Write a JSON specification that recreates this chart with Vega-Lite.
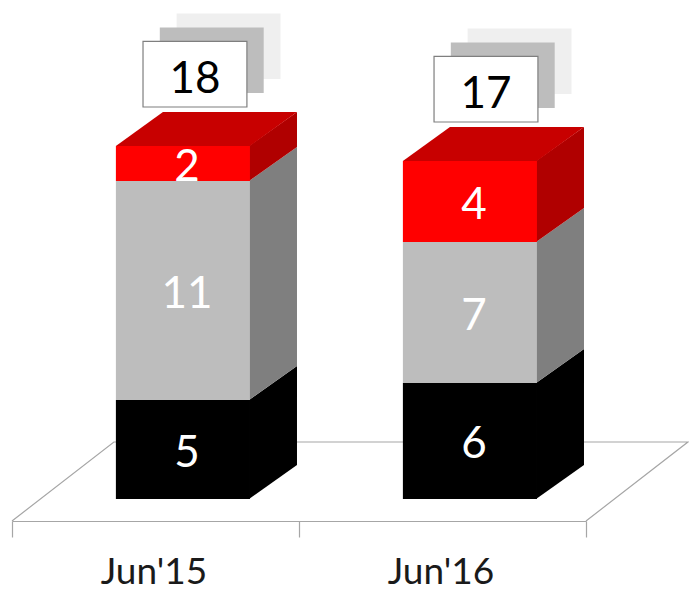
{
"$schema":"https://vega.github.io/schema/vega-lite/v6.json",
"width":689,"height":589,"padding":0,"autosize":{"type":"none"},
"background":"white",
"view":{"stroke":null},
"config":{"font":"Lato"},
"data":{"values":[
{"period":"Jun'15","slot":0,"segment":"Black","rank":1,"value":5,"height":4.95},
{"period":"Jun'15","slot":0,"segment":"Gray","rank":2,"value":11,"height":10.95},
{"period":"Jun'15","slot":0,"segment":"Red","rank":3,"value":2,"height":1.75},
{"period":"Jun'16","slot":1,"segment":"Black","rank":1,"value":6,"height":5.8},
{"period":"Jun'16","slot":1,"segment":"Gray","rank":2,"value":7,"height":7.05},
{"period":"Jun'16","slot":1,"segment":"Red","rank":3,"value":4,"height":4.05}
]},
"transform":[
{"stack":"height","groupby":["period"],"sort":[{"field":"rank","order":"ascending"}],"as":["start","end"]},
{"joinaggregate":[{"op":"sum","field":"value","as":"total"}],"groupby":["period"]},
{"calculate":"datum.slot+0.362","as":"fl"},
{"calculate":"datum.slot+0.829","as":"fr"},
{"calculate":"datum.slot+0.61","as":"lx"}
],
"layer":[
{"data":{"values":[
{"fx":0,"fy":-1.1,"p":1},{"fx":0.355,"fy":2.85,"p":2},{"fx":2.355,"fy":2.85,"p":3},{"fx":2,"fy":-1.1,"p":4}
]},
"transform":[],
"mark":{"type":"line","color":"#a6a6a6","strokeWidth":1.2},
"encoding":{
"x":{"field":"fx","type":"quantitative","scale":{"domain":[0,2],"range":[12,586],"nice":false,"zero":false},
"axis":{"values":[0,0.5,1,1.5,2],"offset":-68,"title":null,"grid":false,"domainColor":"#a6a6a6","domainWidth":1.2,"tickColor":"#a6a6a6","tickWidth":1.2,"tickSize":16,
"tickOpacity":{"expr":"datum.value % 1 == 0 ? 1 : 0"},
"labelExpr":"datum.value == 0.5 ? \"Jun'15\" : datum.value == 1.5 ? \"Jun'16\" : ''",
"labelFont":"Lato","labelFontSize":37,"labelColor":"#1a1a1a","labelPadding":35,"labelOffset":-2,"labelBaseline":"middle","labelOverlap":false,"labelFlush":false,"labelBound":false}},
"y":{"field":"fy","type":"quantitative","scale":{"domain":[0,25],"range":[499,-1],"nice":false,"zero":false},"axis":null},
"order":{"field":"p"}
}},
{"transform":[{"calculate":"[0,1]","as":"d"},{"flatten":["d"]},
{"calculate":"datum.fr-0.003+datum.d*0.167","as":"sx"},
{"calculate":"datum.start+datum.d*1.7","as":"sy"},
{"calculate":"datum.end+datum.d*1.7","as":"sy2"},
{"calculate":"'side ' + datum.segment","as":"face"}],
"mark":{"type":"area","orient":"vertical"},
"encoding":{
"x":{"field":"sx","type":"quantitative"},
"y":{"field":"sy","type":"quantitative","stack":null},
"y2":{"field":"sy2"},
"color":{"field":"face","type":"nominal","legend":null},
"detail":{"field":"period"}
}},
{"transform":[{"filter":"datum.segment == 'Red'"},{"calculate":"[0,1]","as":"d"},{"flatten":["d"]},
{"calculate":"datum.fl+datum.d*0.164","as":"tx"},
{"calculate":"datum.fr+datum.d*0.164","as":"tx2"},
{"calculate":"datum.end+datum.d*1.7","as":"ty"},
{"calculate":"'top'","as":"face"}],
"mark":{"type":"area","orient":"horizontal"},
"encoding":{
"y":{"field":"ty","type":"quantitative"},
"x":{"field":"tx","type":"quantitative","stack":null},
"x2":{"field":"tx2"},
"color":{"field":"face","type":"nominal","legend":null},
"detail":{"field":"period"}
}},
{"transform":[{"calculate":"'front ' + datum.segment","as":"face"}],
"mark":{"type":"rect"},
"encoding":{
"x":{"field":"fl","type":"quantitative"},"x2":{"field":"fr"},
"y":{"field":"start","type":"quantitative"},"y2":{"field":"end"},
"color":{"field":"face","type":"nominal","legend":null,
"scale":{"domain":["front Black","front Gray","front Red","side Black","side Gray","side Red","top","shadow 1","shadow 2"],
"range":["#000000","#bdbdbd","#ff0000","#000000","#7f7f7f","#b00000","#c80000","#bdbdbd","#efefef"]}}
}},
{"transform":[{"filter":"datum.segment == 'Red'"},{"calculate":"[2,1]","as":"layerNo"},{"flatten":["layerNo"]},
{"calculate":"0.4565+1.014*datum.slot+datum.layerNo*0.0585","as":"bx"},
{"calculate":"datum.bx+0.362","as":"bx2"},
{"calculate":"datum.end+1.95+datum.layerNo*0.7","as":"by"},
{"calculate":"datum.by+3.28","as":"by2"},
{"calculate":"'shadow ' + datum.layerNo","as":"face"}],
"mark":{"type":"rect"},
"encoding":{
"x":{"field":"bx","type":"quantitative"},"x2":{"field":"bx2"},
"y":{"field":"by","type":"quantitative"},"y2":{"field":"by2"},
"color":{"field":"face","type":"nominal","legend":null}
}},
{"transform":[{"filter":"datum.segment == 'Red'"},
{"calculate":"0.4565+1.014*datum.slot","as":"bx"},
{"calculate":"datum.bx+0.362","as":"bx2"},
{"calculate":"datum.end+1.95","as":"by"},
{"calculate":"datum.by+3.28","as":"by2"}],
"mark":{"type":"rect","fill":"white","stroke":"#7f7f7f","strokeWidth":1.2},
"encoding":{
"x":{"field":"bx","type":"quantitative"},"x2":{"field":"bx2"},
"y":{"field":"by","type":"quantitative"},"y2":{"field":"by2"}
}},
{"transform":[{"filter":"datum.segment == 'Red'"},
{"calculate":"0.4565+1.014*datum.slot+0.181","as":"bx"},
{"calculate":"datum.end+1.95+1.5","as":"by"}],
"mark":{"type":"text","font":"Lato","fontSize":44,"color":"#000000","baseline":"middle","align":"center","dy":3},
"encoding":{
"x":{"field":"bx","type":"quantitative"},
"y":{"field":"by","type":"quantitative"},
"text":{"field":"total","type":"quantitative"}
}},
{"transform":[{"calculate":"(datum.start+datum.end)/2","as":"my"}],
"mark":{"type":"text","font":"Lato","fontSize":44,"color":"#ffffff","baseline":"middle","align":"center","dy":4},
"encoding":{
"x":{"field":"lx","type":"quantitative"},
"y":{"field":"my","type":"quantitative"},
"text":{"field":"value","type":"quantitative"}
}}
]
}
